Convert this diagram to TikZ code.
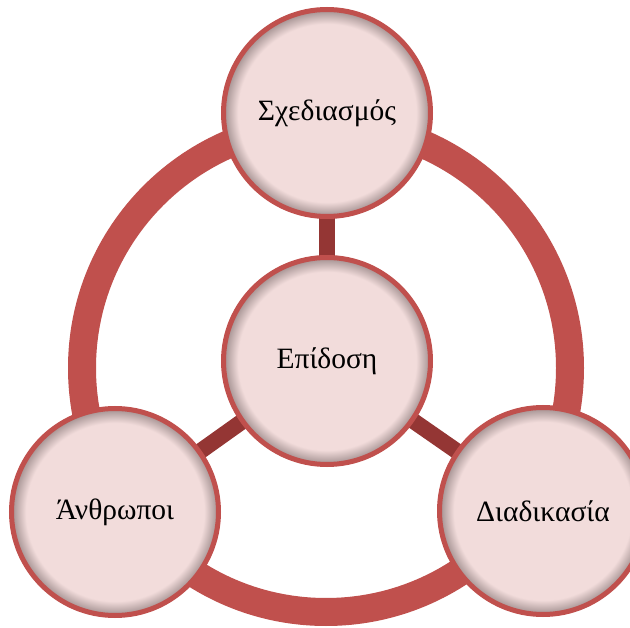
\documentclass[tikz,border=0pt]{standalone}
\usepackage{fontspec}
\setmainfont{Liberation Serif}
\usetikzlibrary{backgrounds}

\definecolor{ringred}{HTML}{C0504D}
\definecolor{linkred}{HTML}{943634}
\definecolor{bubblefill}{HTML}{F2DCDB}
\definecolor{bubbleedge}{HTML}{A08E8E}

% pale disc whose rim darkens slightly inwards
\pgfdeclareradialshading{rimshade}{\pgfpoint{0bp}{0bp}}{%
  color(0bp)=(bubblefill);
  color(21.5bp)=(bubblefill);
  color(25bp)=(bubbleedge);
  color(50bp)=(bubbleedge)}

\tikzset{
  bubble/.style={circle, minimum size=207pt, inner sep=0pt,
    shading=rimshade, draw=ringred, line width=5pt,
    font=\fontsize{29.5}{34}\selectfont, text=black},
  link/.style={draw=linkred, line width=16pt},
  loop/.style={draw=ringred, line width=28pt}
}

\begin{document}
\begin{tikzpicture}[x=1pt, y=-1pt]
  \useasboundingbox (0,0) rectangle (630,628);
  \clip (0,0) rectangle (630,628);

  \node[bubble] (core)   at (327,361) {Επίδοση};
  \node[bubble] (design) at (327,113) {Σχεδιασμός};
  \node[bubble] (people) at (115,512) {Άνθρωποι};
  \node[bubble] (process) at (543,511) {Διαδικασία};
  \coordinate (hub) at (326,368);

  \begin{scope}[on background layer]
    \draw[loop] (hub) circle (244);
    \draw[link] (core.center) -- (design.center);
    \draw[link] (core.center) -- (people.center);
    \draw[link] (core.center) -- (process.center);
  \end{scope}
\end{tikzpicture}
\end{document}
